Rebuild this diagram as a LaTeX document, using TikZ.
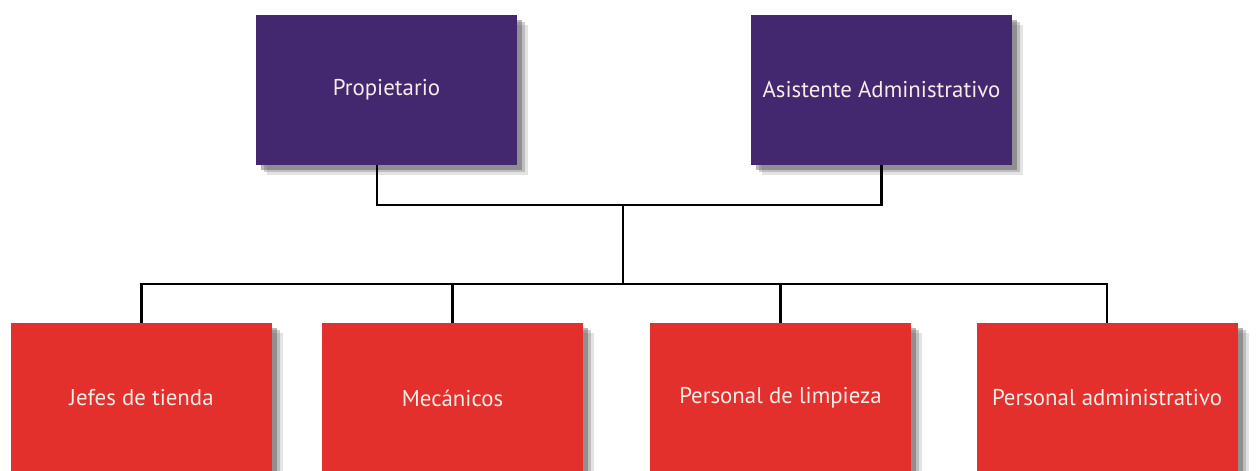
\documentclass[tikz,border=0pt]{standalone}
\usepackage{fontspec}
\setmainfont{PT Sans}
\usetikzlibrary{shadows}
\definecolor{morado}{HTML}{43276F}
\definecolor{rojo}{HTML}{E3302C}
\definecolor{textoclaro}{HTML}{F7ECE8}
\begin{document}
\begin{tikzpicture}
	\tikzstyle{caja}=[rectangle,minimum width=5.22cm,minimum height=3cm,inner sep=0pt,
		text=textoclaro,font=\fontsize{13pt}{15pt}\selectfont,
		drop shadow={shadow xshift=0.22cm,shadow yshift=-0.20cm,fill=black!60,opacity=0.18},
		drop shadow={shadow xshift=0.16cm,shadow yshift=-0.15cm,fill=black!60,opacity=0.3},
		drop shadow={shadow xshift=0.10cm,shadow yshift=-0.10cm,fill=black!70,opacity=0.4}]
	\tikzstyle{jefe}=[caja,fill=morado]
	\tikzstyle{area}=[caja,fill=rojo]
	\tikzstyle{linea}=[line width=1.4pt,black]
	\useasboundingbox[fill=white] (0,0) rectangle (25.12,9.42);

	\node[jefe] (P) at (7.73,7.62) {Propietario};
	\node[jefe] (AA) at (17.63,7.62) {Asistente Administrativo};

	\node[area] (JT) at (2.83,1.46) {Jefes de tienda};
	\node[area] (M) at (9.05,1.46) {Mecánicos};
	\node[area] (PL) at (15.61,1.46) {Personal de limpieza};
	\node[area] (PA) at (22.14,1.46) {Personal administrativo};

	\coordinate (J1) at (12.46,5.32);
	\coordinate (J2) at (12.46,3.74);

	\draw[linea] ([xshift=-0.19cm]P.south) |- (J1) -| (AA.south);
	\draw[linea] (J1) -- (J2);
	\draw[linea] (JT.north) |- (J2) -| (PA.north);
	\draw[linea] (J2 -| M.north) -- (M.north);
	\draw[linea] (J2 -| PL.north) -- (PL.north);
\end{tikzpicture}
\end{document}
